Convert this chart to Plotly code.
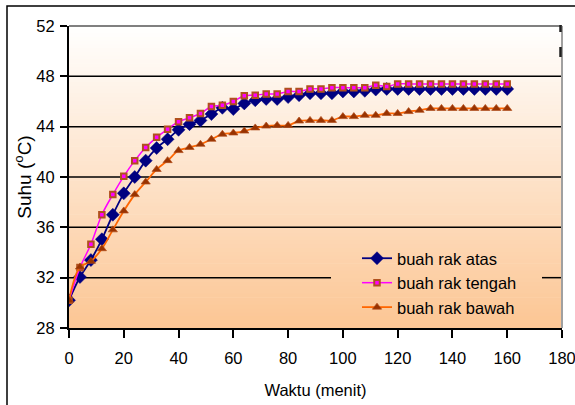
import plotly.graph_objects as go

# ---- data ----
waktu = list(range(0, 161, 4))
rak_atas = [30.2, 32.05, 33.4, 35.05, 37.0, 38.7, 40.0, 41.3, 42.3, 43.0, 43.75, 44.2, 44.5,
            45.0, 45.5, 45.4, 45.85, 46.1, 46.2, 46.2, 46.35, 46.5, 46.65, 46.65, 46.65, 46.8,
            46.8, 46.85, 46.95, 47.0, 47.0, 47.0, 47.0, 47.0, 47.0, 47.0, 47.0, 47.0, 47.0,
            47.0, 47.0]
rak_tengah = [30.2, 32.8, 34.65, 37.0, 38.6, 40.05, 41.3, 42.35, 43.15, 43.8, 44.4, 44.7, 45.05,
              45.6, 45.7, 46.0, 46.45, 46.5, 46.6, 46.6, 46.8, 46.8, 47.0, 47.0, 47.1, 47.1,
              47.1, 47.1, 47.3, 47.2, 47.4, 47.4, 47.4, 47.4, 47.4, 47.4, 47.4, 47.4, 47.4,
              47.4, 47.4]
rak_bawah = [30.2, 32.85, 33.3, 34.3, 35.8, 37.3, 38.6, 39.6, 40.6, 41.3, 42.1, 42.35, 42.6,
             43.0, 43.4, 43.5, 43.65, 43.9, 44.05, 44.1, 44.1, 44.45, 44.5, 44.5, 44.5, 44.8,
             44.8, 44.9, 44.9, 45.05, 45.05, 45.2, 45.3, 45.45, 45.45, 45.45, 45.45, 45.45,
             45.45, 45.45, 45.45]
names = ["buah rak atas", "buah rak tengah", "buah rak bawah"]
x_ticks = list(range(0, 181, 20))
y_ticks = list(range(28, 53, 4))

W, H = 575, 405
L, R, T, B = 69, 13, 26, 77
PW, PH = W - L - R, H - T - B


def px(xp):
    return (xp - L) / PW


def py(yp):
    return (H - B - yp) / PH


FONT = "Liberation Sans, Arial, sans-serif"
FS = 16.5
top_rgb = (255, 255, 255)
bot_rgb = (252, 198, 148)


def grad(f):  # f: 0 top -> 1 bottom
    return "rgb(%d,%d,%d)" % tuple(round(a + (b - a) * f) for a, b in zip(top_rgb, bot_rgb))


fig = go.Figure()
fig.add_trace(go.Scatter(x=waktu, y=rak_atas, name=names[0], mode="lines+markers",
                         line=dict(color="#000080", width=1.8, shape="spline", smoothing=1),
                         marker=dict(symbol="diamond", size=10, color="#000080",
                                     line=dict(color="#000080", width=0.5))))
fig.add_trace(go.Scatter(x=waktu, y=rak_tengah, name=names[1], mode="lines+markers",
                         line=dict(color="#FF00FF", width=1.5, shape="spline", smoothing=1),
                         marker=dict(symbol="square", size=5.5, color="#FF00FF",
                                     line=dict(color="#B0501E", width=2))))
fig.add_trace(go.Scatter(x=waktu, y=rak_bawah, name=names[2], mode="lines+markers",
                         line=dict(color="#FF6600", width=1.8, shape="spline", smoothing=1),
                         marker=dict(symbol="triangle-up", size=8, color="#993300",
                                     line=dict(color="#B04A18", width=0.7))))

shapes = []
N = 80
for i in range(N):
    f = (i + 0.5) / N
    shapes.append(dict(type="rect", xref="x domain", yref="y domain", x0=0, x1=1,
                       y0=1 - (i + 1) / N, y1=1 - i / N + 0.002, fillcolor=grad(f),
                       line=dict(width=0), layer="below"))
# horizontal gridlines (the one behind the legend box is interrupted, as in the original)
legend_gap = (px(331), px(542))
for v in y_ticks[1:-1]:
    segs = [(0, 1)]
    if v == y_ticks[1]:
        segs = [(0, legend_gap[0]), (legend_gap[1], 1)]
    for a, b in segs:
        shapes.append(dict(type="line", xref="x domain", yref="y", x0=a, x1=b, y0=v, y1=v,
                           line=dict(color="black", width=1.5), layer="below"))
# plot frame top / right in gray
shapes.append(dict(type="line", xref="x domain", yref="y domain", x0=0, x1=1, y0=1, y1=1,
                   line=dict(color="#808080", width=2), layer="above"))
shapes.append(dict(type="line", xref="x domain", yref="y domain", x0=1, x1=1, y0=0, y1=1,
                   line=dict(color="#A0A0A0", width=2), layer="above"))
# small marks at top right
for a, b in [(25, 32), (47, 57)]:
    shapes.append(dict(type="line", xref="paper", yref="paper", x0=px(560.5), x1=px(560.5),
                       y0=py(b), y1=py(a), line=dict(color="#202020", width=2.5), layer="above"))
# outer chart border
shapes.append(dict(type="rect", xref="paper", yref="paper", x0=px(7), x1=px(600),
                   y0=py(440), y1=py(6), line=dict(color="black", width=1.5),
                   fillcolor="rgba(0,0,0,0)", layer="above"))

fig.update_layout(
    width=W, height=H, margin=dict(l=L, r=R, t=T, b=B, autoexpand=False),
    paper_bgcolor="white", plot_bgcolor="white",
    font=dict(family=FONT, size=FS, color="black"),
    shapes=shapes,
    showlegend=True,
    legend=dict(x=px(357), y=py(241), xanchor="left", yanchor="top",
                bgcolor="rgba(0,0,0,0)", borderwidth=0,
                font=dict(family=FONT, size=FS, color="black"),
                tracegroupgap=0, itemwidth=30),
    xaxis=dict(range=[0, 180], tickvals=x_ticks, ticktext=[str(v) for v in x_ticks],
               automargin=False,
               showgrid=False, zeroline=False, showline=True, linecolor="black", linewidth=2,
               ticks="outside", ticklen=8, tickwidth=1.5, tickcolor="black",
               ticklabeloverflow="allow", ticklabelstandoff=6,
               tickfont=dict(family=FONT, size=FS),
               title=dict(text="Waktu (menit)", font=dict(family=FONT, size=FS), standoff=19)),
    yaxis=dict(range=[28, 52], tickvals=y_ticks, ticktext=[str(v) for v in y_ticks],
               automargin=False,
               showgrid=False, zeroline=False,
               showline=True, linecolor="black", linewidth=2,
               ticks="outside", ticklen=7, tickwidth=1.5, tickcolor="black",
               ticklabeloverflow="allow", ticklabelstandoff=2,
               tickfont=dict(family=FONT, size=FS),
               title=dict(text="Suhu (<sup>o</sup>C)", font=dict(family=FONT, size=19), standoff=0)),
)

fig.write_html("out.html")
